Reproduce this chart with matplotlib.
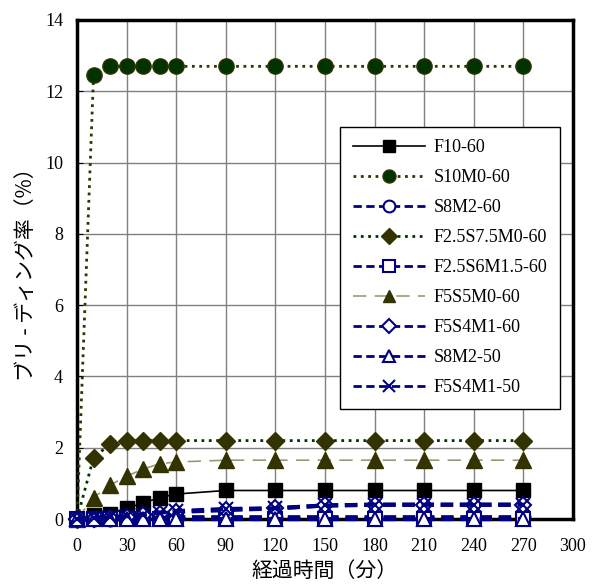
import numpy as np
import matplotlib
matplotlib.use('Agg')
import matplotlib.pyplot as plt

# 経過時間（分）
t = [0, 10, 20, 30, 40, 50, 60, 90, 120, 150, 180, 210, 240, 270]

# ブリーディング率（%）
f10_60 = [0, 0.1, 0.15, 0.3, 0.45, 0.6, 0.7, 0.8, 0.8, 0.8, 0.8, 0.8, 0.8, 0.8]
s10m0_60 = [0, 12.45, 12.7, 12.7, 12.7, 12.7, 12.7, 12.7, 12.7, 12.7, 12.7, 12.7, 12.7, 12.7]
s8m2_60 = [0, 0, 0.01, 0.02, 0.03, 0.04, 0.05, 0.05, 0.05, 0.05, 0.05, 0.05, 0.05, 0.05]
f25s75m0_60 = [0, 1.72, 2.1, 2.2, 2.2, 2.2, 2.2, 2.2, 2.2, 2.2, 2.2, 2.2, 2.2, 2.2]
f25s6m15_60 = [0, 0, 0, 0, 0, 0, 0, 0, 0, 0, 0, 0, 0, 0]
f5s5m0_60 = [0, 0.6, 0.95, 1.2, 1.4, 1.55, 1.6, 1.65, 1.65, 1.65, 1.65, 1.65, 1.65, 1.65]
f5s4m1_60 = [0, 0, 0.02, 0.05, 0.1, 0.15, 0.2, 0.25, 0.3, 0.38, 0.4, 0.4, 0.4, 0.4]
s8m2_50 = [0, 0, 0, 0, 0, 0, 0, 0, 0, 0, 0, 0, 0, 0]
f5s4m1_50 = [0, 0.02, 0.05, 0.08, 0.12, 0.18, 0.22, 0.28, 0.3, 0.38, 0.4, 0.4, 0.4, 0.4]

plt.rcParams['font.family'] = ['Liberation Serif', 'Noto Sans CJK JP']

fig = plt.figure(figsize=(5.96, 5.88), dpi=100)
ax = fig.add_axes([77 / 596, 69 / 588, 496 / 596, 499 / 588])

navy = '#000080'
ms = 10
bd = (3, 1.6)
ax.plot(t, f10_60, '-', color='black', lw=1.2, marker='s', ms=ms,
        mfc='black', mec='black', label='F10-60', clip_on=False, zorder=5)
ax.plot(t, s10m0_60, ':', color='#333300', lw=2, marker='o', ms=ms + 1,
        mfc='#003300', mec='#333300', label='S10M0-60', clip_on=False, zorder=5)
ax.plot(t, s8m2_60, '--', color=navy, lw=3, dashes=bd, marker='o', ms=ms,
        mfc='white', mec=navy, mew=1.5, label='S8M2-60', clip_on=False, zorder=6)
ax.plot(t, f25s75m0_60, ':', color='#003300', lw=2, marker='D', ms=ms - 1,
        mfc='#333300', mec='#333300', label='F2.5S7.5M0-60', clip_on=False, zorder=5)
ax.plot(t, f25s6m15_60, '--', color=navy, lw=3, dashes=bd, marker='s', ms=ms,
        mfc='white', mec=navy, mew=1.5, label='F2.5S6M1.5-60', clip_on=False, zorder=6)
ax.plot(t, f5s5m0_60, '--', color='#999977', lw=1.2, dashes=(8, 5), marker='^', ms=ms + 1,
        mfc='#333300', mec='#333300', label='F5S5M0-60', clip_on=False, zorder=5)
ax.plot(t, f5s4m1_60, '--', color=navy, lw=3, dashes=bd, marker='D', ms=ms - 2,
        mfc='white', mec=navy, mew=1.5, label='F5S4M1-60', clip_on=False, zorder=6)
ax.plot(t, s8m2_50, '--', color=navy, lw=3, dashes=bd, marker='^', ms=ms,
        mfc='white', mec=navy, mew=1.5, label='S8M2-50', clip_on=False, zorder=6)
ax.plot(t, f5s4m1_50, '--', color=navy, lw=3, dashes=bd, marker='x', ms=ms,
        mec=navy, mew=1.5, label='F5S4M1-50', clip_on=False, zorder=6)

ax.set_xlim(0, 300)
ax.set_ylim(0, 14)
ax.set_xticks(np.arange(0, 301, 30))
ax.set_yticks(np.arange(0, 15, 2))
ax.grid(True, color='#808080', lw=1)
ax.set_axisbelow(True)
for s in ax.spines.values():
    s.set_linewidth(2.5)
ax.tick_params(direction='in', length=4, labelsize=13)
ax.tick_params(axis='x', pad=14)
ax.tick_params(axis='y', pad=10)

ax.set_xlabel('経過時間（分）', fontsize=15, family='Noto Sans CJK JP', labelpad=3)
ax.set_ylabel('ブリ - ディング率（%）', fontsize=15, family='Noto Sans CJK JP', labelpad=6)

leg = ax.legend(loc='upper left', bbox_to_anchor=(0.53, 0.786), fontsize=13,
                fancybox=False, framealpha=1, edgecolor='black', borderpad=0.7,
                labelspacing=0.72, handlelength=4.0, handletextpad=0.5,
                borderaxespad=0, markerscale=0.85)
leg.get_frame().set_linewidth(1)
leg.set_zorder(10)
for h in leg.get_lines():
    h.set_linewidth(min(h.get_linewidth(), 2))

fig.savefig('out.png', dpi=100)
